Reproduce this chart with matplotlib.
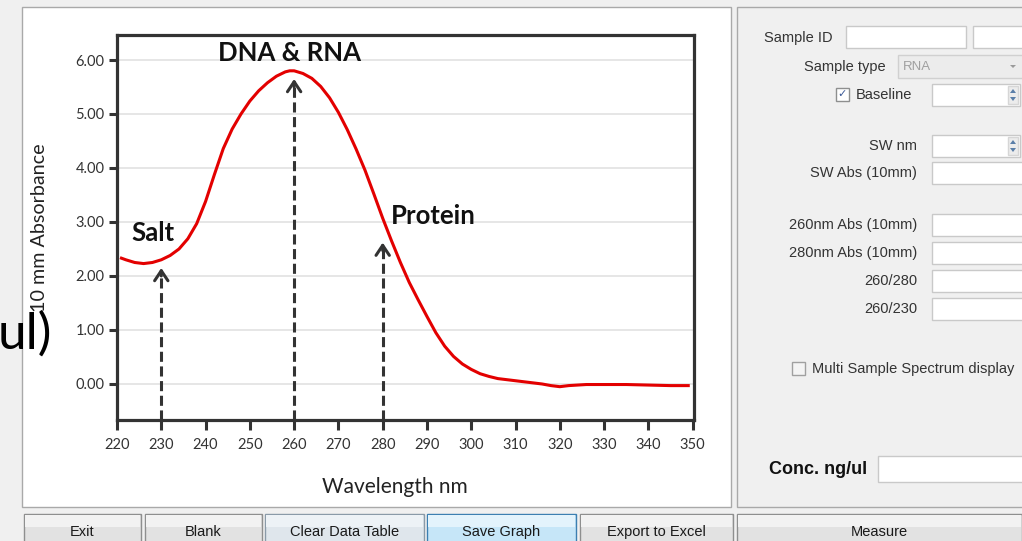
import numpy as np
import matplotlib.pyplot as plt
from matplotlib.patches import Rectangle, Polygon

W, H = 1022, 541

# spectrum (nm, 10 mm absorbance)
wavelength = [221, 222, 224, 226, 228, 230, 232, 234, 236, 238, 240, 242, 244, 246,
              248, 250, 252, 254, 256, 258, 259, 260, 262, 264, 266, 268, 270, 272,
              274, 276, 278, 280, 282, 284, 286, 288, 290, 292, 294, 296, 298, 300,
              302, 304, 306, 308, 310, 312, 314, 316, 318, 320, 322, 324, 326, 330,
              335, 340, 345, 349]
absorbance = [2.33, 2.30, 2.25, 2.23, 2.25, 2.30, 2.38, 2.50, 2.69, 2.97, 3.38, 3.88,
              4.36, 4.72, 5.00, 5.24, 5.43, 5.58, 5.70, 5.78, 5.80, 5.80, 5.75, 5.66,
              5.51, 5.30, 5.03, 4.71, 4.35, 3.96, 3.52, 3.07, 2.65, 2.25, 1.88, 1.56,
              1.25, 0.95, 0.70, 0.51, 0.37, 0.27, 0.19, 0.14, 0.10, 0.08, 0.06, 0.04,
              0.02, 0.00, -0.03, -0.05, -0.03, -0.02, -0.01, -0.01, -0.01, -0.02,
              -0.03, -0.03]

x_ticks = list(range(220, 351, 10))
y_ticks = [0, 1, 2, 3, 4, 5, 6]

# arrows + labels
arrow_nm = [230, 260, 280]
arrow_tip = [2.20, 5.70, 2.67]
peak_names = ['Salt', 'DNA & RNA', 'Protein']
label_pos = [(223.3, 2.80, 'left'), (258.9, 6.13, 'center'), (281.8, 3.11, 'left')]

buttons = ['Exit', 'Blank', 'Clear Data Table', 'Save Graph', 'Export to Excel', 'Measure']
button_x = [(24, 141), (145, 262), (265, 424), (427, 576), (580, 733), (737, 1022)]
field_labels = ['SW Abs (10mm)', '260nm Abs (10mm)', '280nm Abs (10mm)', '260/280', '260/230']
field_y = [173, 225, 253, 281, 309]

fig = plt.figure(figsize=(W / 100, H / 100), dpi=100)
fig.patch.set_facecolor('#f0f0f0')

# background "window" in pixel coords
bg = fig.add_axes([0, 0, 1, 1], zorder=0)
bg.set_xlim(0, W)
bg.set_ylim(H, 0)
bg.axis('off')

def box(x0, y0, x1, y1, fc='white', ec='#c9c9c9', lw=1, z=1):
    bg.add_patch(Rectangle((x0, y0), x1 - x0, y1 - y0, fc=fc, ec=ec, lw=lw, zorder=z))

def spin(x0, y0, x1, y1):
    box(x0, y0, x1, y1)
    box(x1 - 12, y0 + 2, x1 - 2, y1 - 2, fc='#ececec', ec='#d6d6d6', z=2)
    ym = (y0 + y1) / 2
    bg.add_patch(Polygon([[x1 - 10, ym - 2], [x1 - 4, ym - 2], [x1 - 7, ym - 6]], fc='#5a7ea8', ec='none', zorder=3))
    bg.add_patch(Polygon([[x1 - 10, ym + 2], [x1 - 4, ym + 2], [x1 - 7, ym + 6]], fc='#5a7ea8', ec='none', zorder=3))

ui = dict(family='Liberation Sans', color='#333333', fontsize=10.5, va='center')

# chart panel + right panel
box(22, 7, 731, 507, fc='white', ec='#a9a9a9')
box(737, 7, 1030, 507, fc='#f0f0f0', ec='#a9a9a9')

# right panel controls
bg.text(764, 38, 'Sample ID', ha='left', **ui)
box(846, 26, 966, 48)
box(973, 26, 1030, 48)
bg.text(886, 67, 'Sample type', ha='right', **ui)
box(898, 55, 1030, 78, fc='#ececec', ec='#d0d0d0')
bg.text(903, 67, 'RNA', ha='left', family='Liberation Sans', color='#a0a0a0', fontsize=9.5, va='center')
bg.add_patch(Polygon([[1010, 65], [1016, 65], [1013, 68]], fc='#9a9a9a', ec='none', zorder=3))
box(836, 88, 849, 101, fc='white', ec='#8e8f8f')
bg.text(842.5, 94.5, '\u2713', ha='center', va='center', family='DejaVu Sans', color='#3c5a98', fontsize=8, fontweight='bold')
bg.text(856, 95, 'Baseline', ha='left', **ui)
spin(932, 84, 1020, 106)
bg.text(917, 146, 'SW nm', ha='right', **ui)
spin(932, 135, 1020, 157)
for lab, yy in zip(field_labels, field_y):
    bg.text(917, yy, lab, ha='right', **ui)
    box(932, yy - 11, 1030, yy + 11)
box(792, 362, 805, 375, fc='#f4f4f4', ec='#a0a0a0')
bg.text(812, 369, 'Multi Sample Spectrum display', ha='left', **ui)
bg.text(769, 469, 'Conc. ng/ul', ha='left', family='Liberation Sans', color='#111111',
        fontsize=13, fontweight='bold', va='center')
box(878, 456, 1030, 482)

# bottom buttons
for name, (x0, x1) in zip(buttons, button_x):
    if name == 'Save Graph':
        fc_top, fc_bot, ec = '#e3f3fc', '#c6e6f8', '#3c7fb1'
    elif name == 'Clear Data Table':
        fc_top, fc_bot, ec = '#edf2f6', '#dfe6ec', '#8a9aa8'
    else:
        fc_top, fc_bot, ec = '#f2f2f2', '#e2e2e2', '#8e8f8f'
    box(x0, 514, x1, 545, fc=fc_bot, ec=ec)
    box(x0 + 1, 515, x1 - 1, 527, fc=fc_top, ec='none', z=2)
    bg.text((x0 + x1) / 2, 532, name, ha='center', va='center', family='Liberation Sans',
            fontsize=10.5, color='#1a1a1a', zorder=4)

# leftover slide text and axis labels
bg.text(-2, 334, 'ul)', ha='left', va='center', family='Lato', fontsize=37, color='black', zorder=5)
bg.text(40, 228, '10 mm Absorbance', rotation=90, ha='center', va='center', family='Lato',
        fontsize=14.2, color='#222222', zorder=4)
bg.text(395, 487, 'Wavelength nm', ha='center', va='center', family='Lato', fontsize=15,
        color='#222222', zorder=4)

# the spectrum chart
ax = fig.add_axes([117 / W, 1 - 420 / H, 577 / W, 385 / H], zorder=2)
ax.set_facecolor('white')
ax.set_xlim(220, 350.3)
ax.set_ylim(-0.667, 6.463)
ax.set_xticks(x_ticks)
ax.set_yticks(y_ticks)
ax.set_xticklabels([str(t) for t in x_ticks], family='Lato', fontsize=10.5, color='#333333')
ax.set_yticklabels(['%.2f' % t for t in y_ticks], family='Lato', fontsize=10.5, color='#333333')
ax.tick_params(axis='x', direction='out', length=7, width=2.2, color='#333333', pad=6)
ax.tick_params(axis='y', direction='out', length=5.5, width=2.2, color='#333333', pad=3.5)
ax.grid(axis='y', color='#e2e2e2', lw=1.2)
ax.set_axisbelow(True)
for s in ax.spines.values():
    s.set_color('#333333')
    s.set_linewidth(2.3)

ax.plot(wavelength, absorbance, color='#e30000', lw=2.2, solid_joinstyle='round', zorder=3)

ybot = ax.get_ylim()[0]
for xa, yt in zip(arrow_nm, arrow_tip):
    ax.plot([xa, xa], [ybot, yt - 0.08], color='#333333', lw=2.2, ls=(0, (3.3, 1.5)),
            zorder=4, clip_on=False)
    ax.annotate('', xy=(xa, yt), xytext=(xa, yt - 0.25),
                arrowprops=dict(arrowstyle='->,head_length=0.45,head_width=0.3',
                                color='#333333', lw=2.2, mutation_scale=16), zorder=5)

for name, (lx, ly, ha) in zip(peak_names, label_pos):
    ax.text(lx, ly, name, ha=ha, va='center', family='Lato', fontweight='bold',
            fontsize=18.5, color='#111111', zorder=6)

fig.savefig('out.png', dpi=100, facecolor=fig.get_facecolor())
